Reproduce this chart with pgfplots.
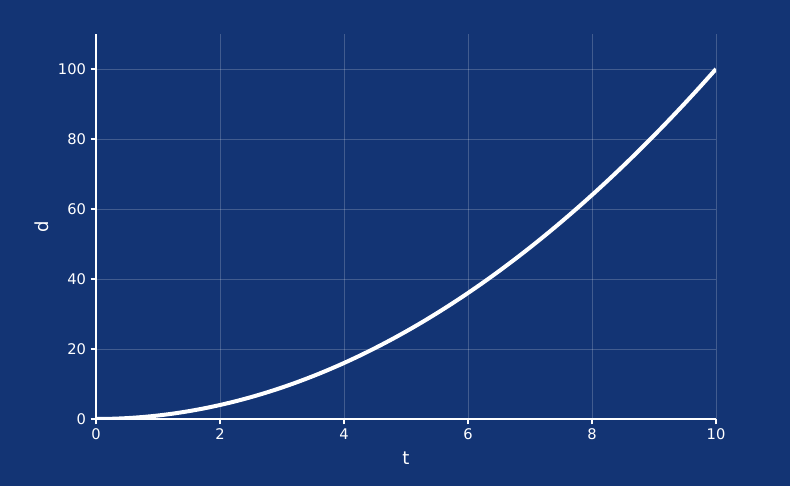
\documentclass[border=0pt]{standalone}
\usepackage{pgfplots}
\pgfplotsset{compat=1.18}
\usepackage{fontspec}
\setmainfont{DejaVu Sans}
\definecolor{bg}{HTML}{133474}
\begin{document}
\begin{tikzpicture}
\fill[bg] (0,0) rectangle (592.5pt,364.5pt);
\begin{axis}[
  at={(72pt,50.25pt)}, anchor=south west,
  scale only axis, width=465pt, height=288.75pt,
  xmin=0, xmax=10, ymin=0, ymax=110,
  axis x line*=bottom, axis y line*=left,
  axis line style={white, line width=0.8pt},
  xtick={0,2,...,10}, ytick={0,20,...,100},
  tick align=outside, major tick length=4pt,
  tick style={white, line width=0.8pt},
  grid=major, major grid style={white, opacity=0.2, line width=0.6pt},
  ticklabel style={white, font=\fontsize{11}{13}\selectfont},
  /pgf/number format/assume math mode=true,
  xlabel={t}, ylabel={d},
  label style={white, font=\fontsize{13.5}{15}\selectfont},
  xlabel style={yshift=-2pt},
  ylabel style={yshift=0pt},
  clip=true,
]
\addplot[white, line width=3pt, smooth] coordinates {
(0,0) (0.25,0.0625) (0.5,0.25) (0.75,0.5625) (1,1) (1.25,1.5625) (1.5,2.25)
(1.75,3.0625) (2,4) (2.25,5.0625) (2.5,6.25) (2.75,7.5625) (3,9) (3.25,10.5625)
(3.5,12.25) (3.75,14.0625) (4,16) (4.25,18.0625) (4.5,20.25) (4.75,22.5625)
(5,25) (5.25,27.5625) (5.5,30.25) (5.75,33.0625) (6,36) (6.25,39.0625)
(6.5,42.25) (6.75,45.5625) (7,49) (7.25,52.5625) (7.5,56.25) (7.75,60.0625)
(8,64) (8.25,68.0625) (8.5,72.25) (8.75,76.5625) (9,81) (9.25,85.5625)
(9.5,90.25) (9.75,95.0625) (10,100)
};
\end{axis}
\end{tikzpicture}
\end{document}
